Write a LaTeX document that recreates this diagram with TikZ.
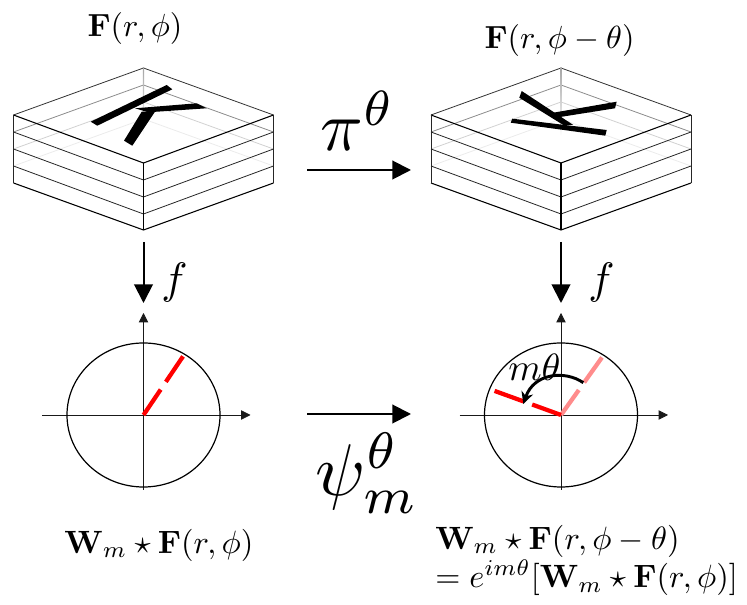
\documentclass[tikz,border=0pt]{standalone}
\usepackage{graphicx}
\usetikzlibrary{arrows.meta}
\newcommand{\fsz}[2]{\scalebox{#1}{$#2$}}
\newcommand{\cube}[1]{%
\begin{scope}[shift={(#1,0)}]
 \foreach \dy/\sh in {68/black!80!white,85/black!45,102/black!18,119/black!8}{
  \draw[line width=0.6pt,color=\sh] (-130,\dy+47) -- (0,\dy) -- (130,\dy+47);}
 \shade[top color=black!35,bottom color=white] (-0.6,68) rectangle (0.6,136);
 \foreach \dy in {17,34,51}{
  \draw[thinline] (-130,115+\dy) -- (0,163+\dy) -- (130,115+\dy);}
 \draw[thickline] (-130,115) -- (0,163) -- (130,115);
 \draw[thickline] (-130,183) -- (0,230) -- (130,183);
 \draw[thinline] (-130,115) -- (-130,183);
 \draw[thinline] (130,115) -- (130,183);
 \draw[thickline] (0,163) -- (0,230);
\end{scope}}
\newcommand{\polar}[1]{%
\begin{scope}[shift={(#1,0)}]
 \draw[axisline] (-101.5,415) -- (107,415);
 \draw[axisline] (0,490) -- (0,313);
 \draw[draw=black,line width=0.9pt] (0,415) ellipse [x radius=76.5,y radius=72];
\end{scope}}
\tikzset{
 x=0.75pt,y=-0.75pt,
 thinline/.style={draw=black!85,line width=0.6pt},
 thickline/.style={draw=black,line width=0.8pt},
 axisline/.style={draw=black!90,line width=0.6pt,-{Triangle[length=7pt,width=7pt]}},
 bigarrow/.style={draw=black,line width=1.5pt,-{Triangle[length=14pt,width=14pt]}},
 reddash/.style={red,line width=3.2pt,dash pattern=on 23pt off 7pt},
 lab/.style={inner sep=0pt,anchor=center}
}
\begin{document}
\begin{tikzpicture}
\useasboundingbox (0,0) rectangle (747,605);
\cube{143.5}
\cube{561}
% K strokes, left
\fill (90.7,121.7) -- (166.7,85) -- (172.3,89.3) -- (97.3,125.7) -- cycle;
\fill (124,140.7) -- (141.7,111.7) -- (155,111.7) -- (132.3,145.7) -- cycle;
\fill (135,108.3) -- (196.7,103.3) -- (206.7,108.3) -- (148.3,112.3) -- cycle;
% K strokes, right
\fill (519.3,97.7) -- (521.7,91) -- (573.3,125) -- (563.3,125) -- cycle;
\fill (510.7,122.7) -- (512.3,118.7) -- (606.7,130) -- (605.3,135.7) -- cycle;
\fill (553.3,112.7) -- (616.7,101.7) -- (615,108.3) -- (558.3,117.3) -- cycle;
% polar axes
\polar{143.5}
\polar{561}
\coordinate (oL) at (143.5,415);
\coordinate (eL) at (183.3,356);
\coordinate (oR) at (561,415);
\coordinate (eP) at (603,356);
\coordinate (eR) at (494,390.7);
\draw[reddash] (oL) -- (eL);
\draw[reddash,red!45!white] (oR) -- (eP);
\draw[reddash] (oR) -- (eR);
\coordinate (a0) at (583.3,382.7);
\coordinate (a1) at (523.3,404);
\draw[line width=2.2pt,-{Stealth[length=9pt,width=9pt]}] (a0) .. controls (565,370) and (534,373) .. (a1);
\node[lab] (mt) at (534.5,367) {\fsz{2.85}{m\theta}};
% main arrows
\coordinate (h1s) at (307,170); \coordinate (h1e) at (411,170);
\coordinate (h2s) at (307,414); \coordinate (h2e) at (411,414);
\coordinate (v1s) at (143.5,242); \coordinate (v1e) at (143.5,303);
\coordinate (v2s) at (561,242); \coordinate (v2e) at (561,303);
\draw[bigarrow] (h1s) -- (h1e);
\draw[bigarrow] (h2s) -- (h2e);
\draw[bigarrow] (v1s) -- (v1e);
\draw[bigarrow] (v2s) -- (v2e);
% labels
\node[lab] (t1) at (135,29) {\fsz{2.4}{\mathbf{F}(r,\phi)}};
\node[lab] (t2) at (559.5,41) {\fsz{2.4}{\mathbf{F}(r,\phi-\theta)}};
\node[lab] (pi) at (358,121) {\fsz{5.3}{\pi^{\theta}}};
\node[lab] (psi) at (367.5,473) {\fsz{5.5}{\psi_m^{\theta}}};
\node[lab] (f1) at (174.5,283) {\fsz{3.3}{f}};
\node[lab] (f2) at (601.5,283) {\fsz{3.3}{f}};
\node[lab] (b1) at (159,545) {\fsz{2.42}{\mathbf{W}_m\star\mathbf{F}(r,\phi)}};
\node[lab,anchor=west] (b2) at (435,541) {\fsz{2.42}{\mathbf{W}_m\star\mathbf{F}(r,\phi-\theta)}};
\node[lab,anchor=west] (b3) at (435,578) {\fsz{2.42}{=e^{im\theta}[\mathbf{W}_m\star\mathbf{F}(r,\phi)]}};
\end{tikzpicture}
\end{document}
